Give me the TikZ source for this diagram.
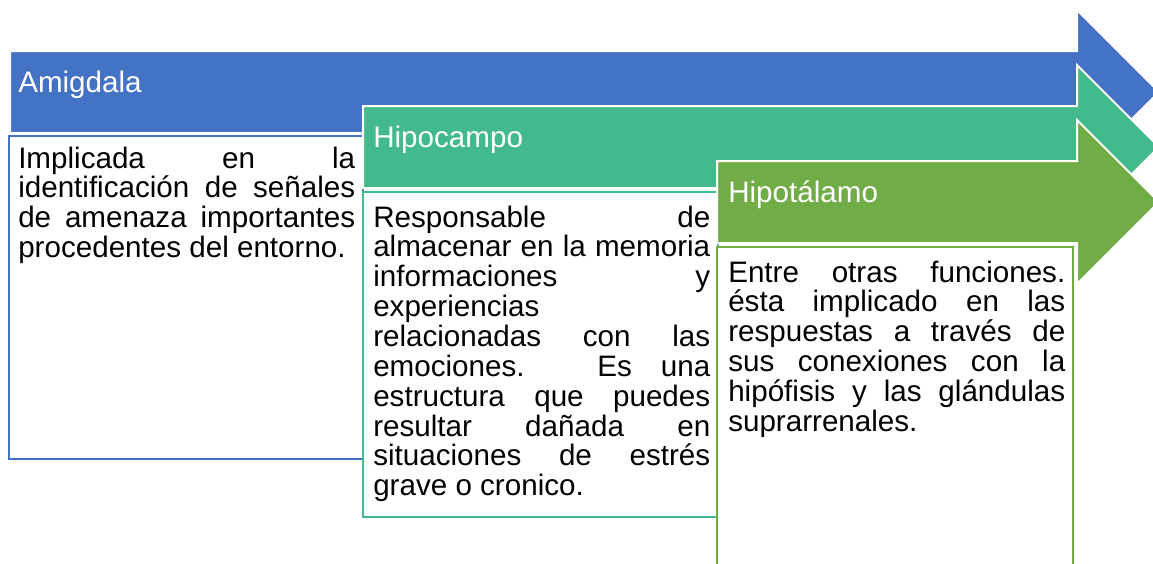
\documentclass[tikz,border=0pt]{standalone}
\usepackage{fontspec}
\setmainfont{Liberation Sans}
\usepackage{xcolor}
\usetikzlibrary{calc,positioning}
\definecolor{amblue}{HTML}{4472C4}
\definecolor{hipgreen}{HTML}{43BA8B}
\definecolor{hypolive}{HTML}{70AD47}
\tikzstyle{arw}=[line width=1.5pt, draw=white]
\tikzstyle{tbox}=[line width=1.5pt, fill=white]
\tikzstyle{hdr}=[anchor=base west, inner sep=0, text=white,
		font=\fontsize{22.2pt}{22.4pt}\selectfont]
\tikzstyle{txt}=[anchor=base west, inner sep=0, text width=252.75pt,
		align=justify, font=\fontsize{22.2pt}{22.4pt}\selectfont]

\begin{document}
\begin{tikzpicture}[x=0.75pt, y=-0.75pt]
	\useasboundingbox (0,0) rectangle (1153,564);
	\clip (0,0) rectangle (1153,564);
	% Amigdala
	\filldraw[arw, fill=amblue] (10,51) -- (1077,51) -- (1077,10) -- (1159,92)
		-- (1077,174) -- (1077,133) -- (10,133) -- cycle;
	\filldraw[tbox, draw=amblue] (9,136) rectangle (363,459);
	\node[hdr] (amig) at (18,92) {Amigdala};
	\node[txt] (amigtxt) at (18,168) {Implicada en la\linebreak
		identificación de señales\linebreak
		de amenaza importantes\linebreak
		procedentes del entorno.};
	% Hipocampo
	\filldraw[arw, fill=hipgreen] (363,106) -- (1077,106) -- (1077,65) -- (1159,147)
		-- (1077,229) -- (1077,188) -- (363,188) -- cycle;
	\filldraw[tbox, draw=hipgreen] (363,192) rectangle (718,517);
	\node[hdr] (hipo) at (373,147) {Hipocampo};
	\node[txt] (hipotxt) at (373,227) {Responsable de\linebreak
		almacenar en la memoria\linebreak
		informaciones y\linebreak
		experiencias\newline
		relacionadas con las\linebreak
		emociones. Es una\linebreak
		estructura que puedes\linebreak
		resultar dañada en\linebreak
		situaciones de estrés\linebreak
		grave o cronico.};
	% Hipotalamo
	\filldraw[arw, fill=hypolive] (717,161) -- (1077,161) -- (1077,120) -- (1159,202)
		-- (1077,284) -- (1077,243) -- (717,243) -- cycle;
	\filldraw[tbox, draw=hypolive] (717,247) rectangle (1073,600);
	\node[hdr] (hypo) at (728,202) {Hipotálamo};
	\node[txt] (hypotxt) at (728,282) {Entre otras funciones.\linebreak
		ésta implicado en las\linebreak
		respuestas a través de\linebreak
		sus conexiones con la\linebreak
		hipófisis y las glándulas\linebreak
		suprarrenales.};
\end{tikzpicture}
\end{document}
